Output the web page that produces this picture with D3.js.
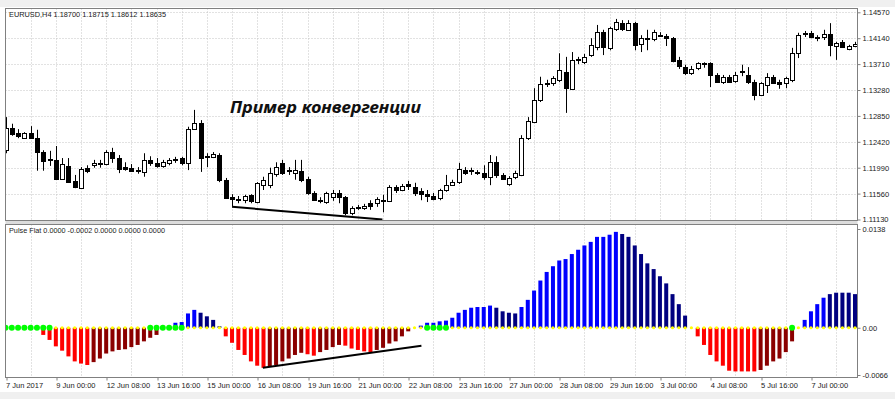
<!DOCTYPE html>
<html lang="ru">
<head>
<meta charset="UTF-8">
<title>EURUSD,H4 - Pulse Flat</title>
<style>
    body { margin: 0; background: #fff; }
    svg { display: block; }
    .ax text { font-family: "Liberation Sans", Arial, sans-serif; font-size: 7.5px; fill: #1a1a1a; }
    .ax line { stroke: #808080; }
    .legend { font-family: "Liberation Sans", Arial, sans-serif; font-size: 7.3px; fill: #1a1a1a; }
</style>
</head>
<body>
<svg id="chart" width="895" height="399"></svg>
<script src="https://d3js.org/d3.v7.min.js"></script>
<script>
// свечи EURUSD H4 (индекс бара 0..135)
const open = [1.1228,1.1265,1.1257,1.1248,1.1257,1.1248,1.1225,1.1212,1.1212,1.1180,
  1.1202,1.1177,1.1165,1.1199,1.1203,1.1205,1.1205,1.1225,1.1215,1.1200,
  1.1199,1.1195,1.1192,1.1212,1.1207,1.1202,1.1207,1.1212,1.1215,1.1207,
  1.1263,1.1273,1.1217,1.1217,1.1220,1.1179,1.1150,1.1147,1.1145,1.1154,
  1.1142,1.1170,1.1170,1.1189,1.1207,1.1194,1.1190,1.1194,1.1180,1.1157,
  1.1145,1.1142,1.1150,1.1157,1.1150,1.1124,1.1132,1.1132,1.1140,1.1140,
  1.1144,1.1144,1.1167,1.1162,1.1172,1.1167,1.1160,1.1155,1.1152,1.1149,
  1.1162,1.1170,1.1175,1.1195,1.1194,1.1192,1.1190,1.1184,1.1208,1.1187,
  1.1172,1.1184,1.1187,1.1248,1.1275,1.1311,1.1338,1.1340,1.1345,1.1358,
  1.1330,1.1378,1.1374,1.1386,1.1399,1.1424,1.1398,1.1429,1.1439,1.1428,
  1.1439,1.1404,1.1413,1.1413,1.1418,1.1418,1.1414,1.1378,1.1366,1.1356,
  1.1365,1.1373,1.1373,1.1353,1.1341,1.1350,1.1343,1.1360,1.1353,1.1341,
  1.1320,1.1336,1.1350,1.1341,1.1340,1.1345,1.1389,1.1421,1.1423,1.1416,
  1.1416,1.1421,1.1401,1.1408,1.1396,1.1401];
const high = [1.1283,1.1272,1.1263,1.1258,1.1268,1.1262,1.1228,1.1227,1.1235,1.1215,
  1.1215,1.1187,1.1200,1.1203,1.1212,1.1212,1.1228,1.1232,1.1220,1.1208,
  1.1205,1.1200,1.1223,1.1218,1.1215,1.1212,1.1215,1.1217,1.1217,1.1267,
  1.1295,1.1278,1.1223,1.1225,1.1223,1.1182,1.1155,1.1152,1.1154,1.1155,
  1.1175,1.1184,1.1199,1.1208,1.1212,1.1200,1.1212,1.1212,1.1184,1.1160,
  1.1150,1.1159,1.1162,1.1162,1.1152,1.1135,1.1137,1.1139,1.1145,1.1150,
  1.1154,1.1170,1.1170,1.1172,1.1177,1.1174,1.1165,1.1162,1.1157,1.1164,
  1.1187,1.1179,1.1207,1.1200,1.1199,1.1195,1.1203,1.1220,1.1218,1.1190,
  1.1185,1.1194,1.1253,1.1283,1.1331,1.1350,1.1345,1.1351,1.1389,1.1383,
  1.1391,1.1383,1.1388,1.1414,1.1436,1.1428,1.1433,1.1446,1.1444,1.1444,
  1.1441,1.1419,1.1428,1.1428,1.1424,1.1421,1.1416,1.1383,1.1370,1.1368,
  1.1374,1.1374,1.1374,1.1356,1.1353,1.1353,1.1358,1.1370,1.1366,1.1345,
  1.1341,1.1356,1.1353,1.1345,1.1350,1.1398,1.1423,1.1426,1.1426,1.1419,
  1.1428,1.1439,1.1408,1.1411,1.1403,1.1408];
const low = [1.1223,1.1252,1.1248,1.1247,1.1247,1.1194,1.1194,1.1202,1.1179,1.1179,
  1.1174,1.1165,1.1164,1.1190,1.1199,1.1199,1.1203,1.1207,1.1190,1.1194,
  1.1192,1.1189,1.1184,1.1202,1.1199,1.1199,1.1203,1.1207,1.1203,1.1195,
  1.1262,1.1192,1.1200,1.1215,1.1175,1.1147,1.1135,1.1140,1.1140,1.1140,
  1.1140,1.1162,1.1165,1.1184,1.1187,1.1187,1.1179,1.1175,1.1154,1.1144,
  1.1140,1.1139,1.1144,1.1140,1.1120,1.1120,1.1129,1.1129,1.1129,1.1134,
  1.1125,1.1142,1.1157,1.1160,1.1162,1.1152,1.1145,1.1142,1.1145,1.1145,
  1.1159,1.1169,1.1172,1.1187,1.1187,1.1187,1.1179,1.1170,1.1182,1.1179,
  1.1169,1.1180,1.1185,1.1245,1.1273,1.1308,1.1333,1.1335,1.1341,1.1290,
  1.1328,1.1371,1.1371,1.1383,1.1394,1.1386,1.1394,1.1426,1.1426,1.1426,
  1.1394,1.1391,1.1394,1.1409,1.1416,1.1401,1.1374,1.1363,1.1353,1.1353,
  1.1361,1.1365,1.1333,1.1340,1.1338,1.1340,1.1340,1.1351,1.1338,1.1311,
  1.1318,1.1323,1.1338,1.1330,1.1331,1.1341,1.1381,1.1416,1.1414,1.1409,
  1.1411,1.1384,1.1378,1.1398,1.1394,1.1399];
const close = [1.1265,1.1255,1.1252,1.1257,1.1248,1.1225,1.1210,1.1213,1.1180,1.1205,
  1.1175,1.1167,1.1197,1.1194,1.1207,1.1207,1.1225,1.1215,1.1197,1.1197,
  1.1194,1.1194,1.1212,1.1207,1.1202,1.1208,1.1212,1.1213,1.1207,1.1263,
  1.1273,1.1215,1.1218,1.1222,1.1179,1.1149,1.1147,1.1145,1.1152,1.1144,
  1.1174,1.1179,1.1190,1.1200,1.1190,1.1195,1.1195,1.1179,1.1157,1.1145,
  1.1144,1.1157,1.1157,1.1150,1.1124,1.1132,1.1134,1.1135,1.1135,1.1147,
  1.1145,1.1167,1.1162,1.1169,1.1169,1.1157,1.1155,1.1152,1.1147,1.1162,
  1.1170,1.1175,1.1197,1.1190,1.1195,1.1190,1.1184,1.1208,1.1187,1.1180,
  1.1182,1.1190,1.1248,1.1277,1.1311,1.1338,1.1340,1.1348,1.1361,1.1331,
  1.1378,1.1379,1.1383,1.1403,1.1424,1.1399,1.1431,1.1441,1.1429,1.1439,
  1.1403,1.1414,1.1414,1.1424,1.1419,1.1414,1.1376,1.1368,1.1356,1.1363,
  1.1373,1.1371,1.1353,1.1341,1.1350,1.1341,1.1353,1.1358,1.1341,1.1320,
  1.1340,1.1350,1.1340,1.1338,1.1348,1.1389,1.1419,1.1423,1.1416,1.1414,
  1.1421,1.1403,1.1406,1.1399,1.1401,1.1404];

// индикатор Pulse Flat
const pulse = [0,0,0,0,0,0,-0.0010,-0.0017,-0.0026,-0.0032,
  -0.0040,-0.0047,-0.0050,-0.0052,-0.0048,-0.0043,-0.0036,-0.0033,-0.0031,-0.0030,
  -0.0027,-0.0024,-0.0019,-0.0014,-0.0010,0,0,0.0007,0.0008,0.0020,
  0.0025,0.0021,0.0016,0.0011,0.0002,-0.0012,-0.0021,-0.0031,-0.0038,-0.0047,
  -0.0053,-0.0056,-0.0054,-0.0052,-0.0047,-0.0043,-0.0038,-0.0035,-0.0037,-0.0039,
  -0.0034,-0.0031,-0.0027,-0.0024,-0.0025,-0.0029,-0.0031,-0.0033,-0.0034,-0.0031,
  -0.0028,-0.0022,-0.0019,-0.0012,-0.0005,0,0.0003,0.0007,0.0007,0.0009,
  0.0010,0.0014,0.0021,0.0025,0.0028,0.0029,0.0029,0.0031,0.0028,0.0023,
  0.0021,0.0020,0.0029,0.0039,0.0052,0.0066,0.0078,0.0086,0.0094,0.0096,
  0.0103,0.0109,0.0115,0.0120,0.0127,0.0127,0.0130,0.0134,0.0131,0.0127,
  0.0115,0.0103,0.0090,0.0082,0.0072,0.0062,0.0047,0.0033,0.0017,0,
  -0.0012,-0.0024,-0.0038,-0.0047,-0.0053,-0.0060,-0.0061,-0.0061,-0.0061,-0.0061,
  -0.0059,-0.0053,-0.0047,-0.0043,-0.0034,-0.0019,0,0.0011,0.0023,0.0033,
  0.0042,0.0047,0.0049,0.0049,0.0049,0.0047];
// цвет столбца: B рост выше 0, N спад выше 0, R спад ниже 0, M рост ниже 0
const pulseState = ("......RRRRRRRRMMMMMMMMMMM..BBBBNNNNRRRRRRRMMMMMMRRMMMMRRRRRMMMMMM." +
  "BBBBBBBBBBBBNNNNBBBBBBBBBBBBBBBBNNNNNNNNNNN.RRRRRRRRRRMMMMMM.BBBBNNNNN").split("");
const flatDots = [0,1,2,3,4,5,6,7,23,24,25,26,27,28,67,68,69,70,125];

const priceTicks = [1.14570,1.14140,1.13710,1.13280,1.12850,1.12420,1.11990,1.11560,1.11130];
const pulseTicks = [0.0138, 0, -0.0066];
const pulseTickLabels = ["0.0138", "0.00", "-0.0066"];
const timeIdx = [0,8,16,24,32,40,48,56,64,72,80,88,96,104,112,120,128];
const timeLabels = ["7 Jun 2017","9 Jun 00:00","12 Jun 08:00","13 Jun 16:00","15 Jun 00:00",
  "16 Jun 08:00","19 Jun 16:00","21 Jun 00:00","22 Jun 08:00","23 Jun 16:00","27 Jun 00:00",
  "28 Jun 08:00","29 Jun 16:00","3 Jul 00:00","4 Jul 08:00","5 Jul 16:00","7 Jul 00:00"];

// линии дивергенции: [индекс, значение]
const priceLine = [[36.0, 1.1134], [59.9, 1.1113]];
const pulseLine = [[40.9, -0.00558], [66.1, -0.00251]];

const L = 5.5, R = 857.5;
const top1 = 8.5, bot1 = 220.5, top2 = 224.5, bot2 = 377.5;

const svg = d3.select("#chart");
const x = d3.scaleLinear().domain([0, 135]).range([5.5, 855]);
const yP = d3.scaleLinear().domain([1.11130, 1.14570]).range([219.5, 12.3]);
const yI = d3.scaleLinear().domain([-0.0066, 0.0138]).range([375, 229]);
const px = i => Math.round(x(i)) + 0.5;

// фон окна
svg.append("rect").attr("width", 895).attr("height", 7).attr("fill", "#f0f0f0");
svg.append("rect").attr("y", 392).attr("width", 895).attr("height", 7).attr("fill", "#f0f0f0");

const defs = svg.append("defs");
defs.append("clipPath").attr("id", "c1").append("rect")
    .attr("x", L).attr("y", top1).attr("width", R - L).attr("height", bot1 - top1);
defs.append("clipPath").attr("id", "c2").append("rect")
    .attr("x", L).attr("y", top2).attr("width", R - L).attr("height", bot2 - top2);

// сетка
const grid = svg.append("g").attr("stroke", "#c4c4c4").attr("stroke-dasharray", "1,2");
grid.selectAll(".hg").data(priceTicks.slice(0, -1)).join("line")
    .attr("x1", L).attr("x2", R)
    .attr("y1", d => Math.round(yP(d)) + 0.5).attr("y2", d => Math.round(yP(d)) + 0.5);
grid.selectAll(".vg1").data(d3.range(4, 136, 4)).join("line")
    .attr("x1", d => px(d)).attr("x2", d => px(d)).attr("y1", top1).attr("y2", bot1);
grid.selectAll(".vg2").data(d3.range(4, 136, 8)).join("line")
    .attr("class", "vg2")
    .attr("x1", d => px(d)).attr("x2", d => px(d)).attr("y1", top2).attr("y2", bot2);

// свечи
const candles = svg.append("g").attr("clip-path", "url(#c1)");
d3.range(open.length).forEach(i => {
    const cx = px(i);
    const bull = close[i] >= open[i];
    candles.append("line").attr("x1", cx).attr("x2", cx)
        .attr("y1", yP(high[i])).attr("y2", yP(low[i])).attr("stroke", "#000");
    const yt = Math.round(yP(Math.max(open[i], close[i]))) + 0.5;
    const yb = Math.round(yP(Math.min(open[i], close[i]))) + 0.5;
    candles.append("rect").attr("x", cx - 2).attr("width", 4)
        .attr("y", yt).attr("height", Math.max(yb - yt, 0.01))
        .attr("fill", bull ? "#fff" : "#000").attr("stroke", "#000");
});

// гистограмма
const colors = { B: "#0000ff", N: "#000080", R: "#ff0000", M: "#8b0000" };
const hist = svg.append("g").attr("clip-path", "url(#c2)");
hist.selectAll("rect").data(pulse).join("rect")
    .attr("x", (d, i) => x(i) - 2).attr("width", 4)
    .attr("y", d => Math.min(yI(0), yI(d)))
    .attr("height", d => Math.abs(yI(d) - yI(0)))
    .attr("fill", (d, i) => colors[pulseState[i]] || "none");
hist.selectAll(".yd").data(pulse).join("circle")
    .attr("cx", (d, i) => x(i)).attr("cy", yI(0)).attr("r", 1.6).attr("fill", "#ffff00");
hist.selectAll(".gd").data(flatDots).join("circle")
    .attr("cx", d => x(d)).attr("cy", yI(0)).attr("r", 3).attr("fill", "#00ff00");

// линии конвергенции
const lineP = d3.line().x(d => x(d[0])).y(d => yP(d[1]));
const lineI = d3.line().x(d => x(d[0])).y(d => yI(d[1]));
svg.append("path").attr("d", lineP(priceLine)).attr("stroke", "#000").attr("stroke-width", 2).attr("fill", "none");
svg.append("path").attr("d", lineI(pulseLine)).attr("stroke", "#000").attr("stroke-width", 2).attr("fill", "none");

// рамки
const frame = svg.append("g").attr("fill", "none").attr("stroke", "#808080");
svg.insert("rect", "g").attr("x", L).attr("y", bot1).attr("width", R - L).attr("height", top2 - bot1).attr("fill", "#dcdcdc");
frame.append("rect").attr("x", L).attr("y", top1).attr("width", R - L).attr("height", bot1 - top1);
frame.append("rect").attr("x", L).attr("y", top2).attr("width", R - L).attr("height", bot2 - top2);

// оси
svg.append("g").attr("class", "ax").attr("transform", `translate(${R},0)`)
    .call(d3.axisRight(yP).tickValues(priceTicks).tickSize(3).tickPadding(2).tickFormat(d3.format(".5f")))
    .call(g => g.select(".domain").remove());
svg.append("g").attr("class", "ax").attr("transform", `translate(${R},0)`)
    .call(d3.axisRight(yI).tickValues(pulseTicks).tickSize(3).tickPadding(2).tickFormat((d, i) => pulseTickLabels[i]))
    .call(g => g.select(".domain").remove());
svg.append("g").attr("class", "ax").attr("transform", `translate(0,${bot2})`)
    .call(d3.axisBottom(x).tickValues(timeIdx).tickSize(3).tickFormat((d, i) => timeLabels[i]))
    .call(g => g.select(".domain").remove())
    .call(g => g.selectAll(".tick line").attr("transform", d => `translate(${px(d) - x(d)},0)`))
    .call(g => g.selectAll(".tick text").attr("text-anchor", "start").attr("x", 0).attr("y", 5.5));

// подписи
svg.append("text").attr("class", "legend").attr("x", 9).attr("y", 17.3)
    .attr("textLength", 157).attr("lengthAdjust", "spacingAndGlyphs")
    .text("EURUSD,H4  1.18700 1.18715 1.18612 1.18635");
svg.append("text").attr("class", "legend").attr("x", 9).attr("y", 233.3)
    .attr("textLength", 156).attr("lengthAdjust", "spacingAndGlyphs")
    .text("Pulse Flat 0.0000 -0.0002 0.0000 0.0000 0.0000");
svg.append("text").attr("x", 230).attr("y", 112.5)
    .attr("font-family", "'Noto Sans', 'DejaVu Sans', sans-serif")
    .attr("font-weight", "bold").attr("font-style", "italic").attr("font-size", 15.5)
    .attr("textLength", 191).attr("lengthAdjust", "spacingAndGlyphs")
    .attr("fill", "#111")
    .text("Пример конвергенции");
</script>
</body>
</html>
